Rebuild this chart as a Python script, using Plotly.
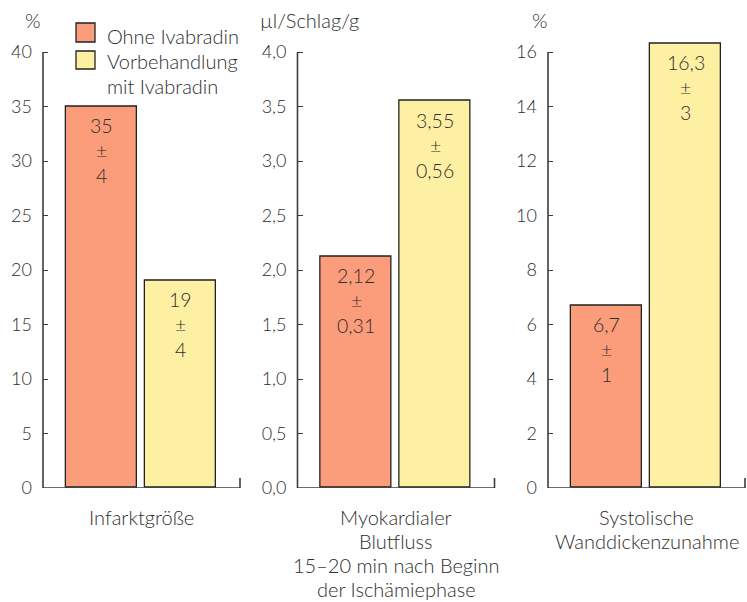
import plotly.graph_objects as go

# --- data -------------------------------------------------------------
categories = [
    "Infarktgröße",
    "Myokardialer<br>Blutfluss<br>15–20 min nach Beginn<br>der Ischämiephase",
    "Systolische<br>Wanddickenzunahme",
]
units = ["%", "µl/Schlag/g", "%"]
series_names = ["Ohne Ivabradin", "Vorbehandlung<br>mit Ivabradin"]
ohne = [35, 2.12, 6.7]
ohne_err = [4, 0.31, 1]
vorbeh = [19, 3.55, 16.3]
vorbeh_err = [4, 0.56, 3]
axis_top = [40, 4.0, 16]
axis_step = [5, 0.5, 2]
tick_format = ["d", ".1f", "d"]

# --- styling ----------------------------------------------------------
W, H = 747, 602
FONT = "Lato"
WEIGHT = 300
TXT = "#2e2e2e"
AX = "#3c3c3c"
ORANGE = "#FB9D7B"
YELLOW = "#FEF0A3"
EDGE = "#222222"
colors = [ORANGE, YELLOW]
LINE_GAP = 25      # px between stacked text lines (bars, legend)
CAT_GAP = 24       # px between the lines of a category label

panel_px = [(43, 240), (297.5, 494.5), (548, 745)]
y_zero_px, y_top_px = 488, 35.65
head = 16.6 / 16.0  # room above the top tick for the tallest bar
y_dom = [(H - y_zero_px) / H, (H - y_top_px) / H]
x_range = [-0.7405, 1.753]


def fmt(v):
    return f"{v:g}".replace(".", ",")


def font(size):
    return dict(family=FONT, size=size, color=TXT, weight=WEIGHT)


def py(px):
    """pixel row -> paper fraction"""
    return (H - px) / H


fig = go.Figure()
shapes, annotations = [], []

for i in range(3):
    xa = "x" if i == 0 else f"x{i + 1}"
    ya = "y" if i == 0 else f"y{i + 1}"
    vals = [ohne[i], vorbeh[i]]
    errs = [ohne_err[i], vorbeh_err[i]]
    for j in range(2):
        fig.add_trace(go.Bar(
            x=[j], y=[vals[j]], width=0.9,
            marker=dict(color=colors[j], line=dict(color=EDGE, width=1.3)),
            xaxis=xa, yaxis=ya, showlegend=False, hoverinfo="skip",
        ))
        # value ± error, stacked inside the top of the bar
        for k, t in enumerate([fmt(vals[j]), "±", fmt(errs[j])]):
            annotations.append(dict(
                xref=xa, yref=ya, x=j, y=vals[j], yanchor="middle",
                yshift=-(19 + k * LINE_GAP), text=t, showarrow=False,
                font=font(19.5),
            ))

    x0, x1 = panel_px[i]
    top = axis_top[i]
    fig.layout[f"xaxis{'' if i == 0 else i + 1}"] = dict(
        domain=[x0 / W, x1 / W], range=x_range, anchor=ya,
        showgrid=False, zeroline=False, showticklabels=False, ticks="",
        fixedrange=True, automargin=False,
    )
    fig.layout[f"yaxis{'' if i == 0 else i + 1}"] = dict(
        domain=y_dom, range=[0, top * head], anchor=xa,
        tick0=0, dtick=axis_step[i], tickformat=tick_format[i],
        ticks="inside", ticklen=5, tickwidth=1.4, tickcolor=AX,
        ticklabelstandoff=10, tickfont=font(18),
        showgrid=False, zeroline=False, showline=False, fixedrange=True,
        automargin=False,
    )

    # axis lines with the closing tick at the right end
    line = dict(color=AX, width=1.6)
    shapes.append(dict(type="line", xref=f"{xa} domain", yref=ya,
                       x0=0, x1=0, y0=0, y1=top, line=line))
    shapes.append(dict(type="line", xref=f"{xa} domain", yref=ya,
                       x0=0, x1=1, y0=0, y1=0, line=line))
    shapes.append(dict(type="line", xref=f"{xa} domain", yref=f"{ya} domain",
                       x0=1, x1=1, y0=0, y1=10 / (y_zero_px - y_top_px),
                       line=line))

    # category label below the panel
    for k, t in enumerate(categories[i].split("<br>")):
        annotations.append(dict(
            xref=f"{xa} domain", yref="paper", x=0.5,
            y=py(517 + k * CAT_GAP), xanchor="center", yanchor="middle",
            text=t, showarrow=False, font=font(20),
        ))

# unit labels above the axes
unit_pos = [(43, "right"), (258, "left"), (550, "right")]
for u, (ux, anchor) in zip(units, unit_pos):
    annotations.append(dict(xref="paper", yref="paper", x=ux / W, y=py(20),
                            xanchor=anchor, yanchor="middle", text=u,
                            showarrow=False, font=font(20)))

# legend: swatches and names
swatch_y = [(23, 42), (51, 69)]
label_y = [36, 61]
for j in range(2):
    ya0, ya1 = swatch_y[j]
    shapes.append(dict(type="rect", xref="paper", yref="paper",
                       x0=76 / W, x1=95 / W, y0=py(ya1), y1=py(ya0),
                       fillcolor=colors[j], line=dict(color=EDGE, width=1.3)))
    for k, t in enumerate(series_names[j].split("<br>")):
        annotations.append(dict(xref="paper", yref="paper", x=105 / W,
                                y=py(label_y[j] + k * LINE_GAP),
                                xanchor="left", yanchor="middle", text=t,
                                showarrow=False, font=font(20)))

fig.update_layout(
    width=W, height=H, autosize=False, margin=dict(l=0, r=0, t=0, b=0),
    paper_bgcolor="white", plot_bgcolor="white",
    shapes=shapes, annotations=annotations, showlegend=False,
    separators=",.", bargap=0,
)

fig.write_html("out.html", config={"responsive": False})
